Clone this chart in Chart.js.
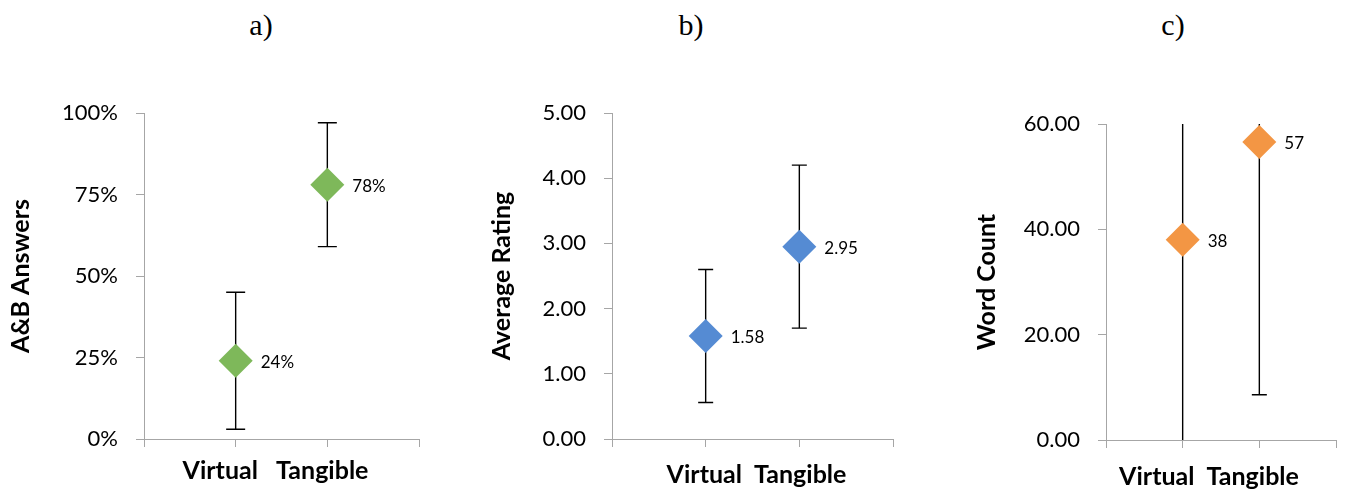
<!DOCTYPE html>
<html>
<head>
<meta charset="utf-8">
<script src="https://cdn.jsdelivr.net/npm/chart.js@4/dist/chart.umd.min.js"></script>
<style>
  html, body { margin: 0; padding: 0; background: #fff; }
  #wrap { position: relative; width: 1353px; height: 489px; overflow: hidden; }
  .panel { position: absolute; top: 0; height: 489px; }
  .lbl { position: absolute; top: 10px; line-height: 30px; font-family: "Liberation Serif", "Times New Roman", serif; font-size: 30px; color: #000; transform: translateX(-50%); }
</style>
</head>
<body>
<div id="wrap">
  <div class="lbl" style="left:261px">a)</div>
  <div class="lbl" style="left:691px">b)</div>
  <div class="lbl" style="left:1173px">c)</div>
  <div class="panel" style="left:0;width:440px"><canvas id="ca"></canvas></div>
  <div class="panel" style="left:460px;width:450px"><canvas id="cb"></canvas></div>
  <div class="panel" style="left:910px;width:443px"><canvas id="cc"></canvas></div>
</div>
<script>
// ---- data ----
const categories = ["Virtual", "Tangible"];

const answersValues = [24, 78];
const answersErrors = [21, 19];

const ratingValues = [1.58, 2.95];
const ratingErrors = [1.02, 1.25];

const wordValues = [38, 56.6];
const wordErrors = [48, 48];

const answersTicks = [0, 25, 50, 75, 100];
const ratingTicks = [0, 1, 2, 3, 4, 5];
const wordTicks = [0, 20, 40, 60];

// ---- helpers ----
const FONT = "Lato, 'Open Sans', sans-serif";
const AXIS_GRAY = "#A6A6A6";
const extras = {}; // per-canvas error bars, label formats, x title placement

const errorBarPlugin = {
  id: 'errorBars',
  beforeDatasetsDraw(chart) {
    const o = extras[chart.canvas.id];
    if (!o) return;
    const {ctx, chartArea, scales} = chart;
    const ds = chart.data.datasets[0];
    ctx.save();
    ctx.beginPath();
    ctx.rect(chartArea.left - 20, chartArea.top, chartArea.right - chartArea.left + 40, chartArea.bottom - chartArea.top);
    ctx.clip();
    ctx.strokeStyle = '#000';
    ctx.lineWidth = 1.4;
    ds.data.forEach((p, i) => {
      const e = o.errors[i];
      const x = scales.x.getPixelForValue(p.x);
      const yHi = scales.y.getPixelForValue(p.y + e);
      const yLo = scales.y.getPixelForValue(p.y - e);
      ctx.beginPath();
      ctx.moveTo(x, yHi); ctx.lineTo(x, yLo);
      ctx.moveTo(x - o.cap, yHi); ctx.lineTo(x + o.cap, yHi);
      ctx.moveTo(x - o.cap, yLo); ctx.lineTo(x + o.cap, yLo);
      ctx.stroke();
    });
    ctx.restore();
  }
};

const valueLabelPlugin = {
  id: 'valueLabels',
  afterDatasetsDraw(chart) {
    const o = extras[chart.canvas.id];
    if (!o) return;
    const {ctx, chartArea} = chart;
    const meta = chart.getDatasetMeta(0);
    const ds = chart.data.datasets[0];
    ctx.save();
    ctx.font = "17px " + FONT;
    ctx.fillStyle = '#000';
    ctx.textAlign = 'left';
    ctx.textBaseline = 'middle';
    meta.data.forEach((el, i) => {
      ctx.fillText(o.labelFmt(ds.data[i].y), el.x + 25, el.y + 2);
    });
    // x axis title (category names)
    ctx.font = "bold 25px " + FONT;
    ctx.textAlign = 'center';
    ctx.textBaseline = 'alphabetic';
    ctx.fillText(categories.join(o.gap), (chartArea.left + chartArea.right) / 2 + o.titleDx, o.titleY);
    ctx.restore();
  }
};

function makeChart(id, cfg) {
  extras[id] = { errors: cfg.errors, cap: cfg.cap, labelFmt: cfg.labelFmt, gap: cfg.gap, titleDx: cfg.titleDx, titleY: cfg.titleY };
  const points = cfg.values.map((v, i) => ({x: i + 1, y: v}));
  return new Chart(document.getElementById(id), {
    type: 'scatter',
    data: {
      datasets: [{
        label: cfg.yTitle,
        data: points,
        pointStyle: 'rectRot',
        pointRadius: 17,
        pointHoverRadius: 17,
        backgroundColor: cfg.color,
        borderColor: cfg.color,
        borderWidth: 0,
        clip: false
      }]
    },
    options: {
      responsive: true,
      maintainAspectRatio: false,
      animation: false,
      events: [],
      layout: { padding: { top: cfg.top, right: cfg.right, bottom: 0, left: 0 } },
      plugins: {
        legend: { display: false },
        tooltip: { enabled: false }
      },
      scales: {
        x: {
          type: 'linear',
          min: 0, max: 3,
          afterFit(s) { s.height = cfg.xHeight; },
          afterBuildTicks(s) { s.ticks = [0, 1, 2, 3].map(v => ({value: v})); },
          ticks: { callback: () => '', font: { size: 1 } },
          grid: { drawOnChartArea: false, drawTicks: true, tickLength: 8, color: AXIS_GRAY, lineWidth: 1 },
          border: { display: true, color: AXIS_GRAY, width: 1 },
          title: { display: false }
        },
        y: {
          min: cfg.ticks[0], max: cfg.ticks[cfg.ticks.length - 1],
          afterFit(s) { s.width = cfg.yWidth; },
          afterBuildTicks(s) { s.ticks = cfg.ticks.map(v => ({value: v})); },
          ticks: { callback: cfg.tickFmt, color: '#000', padding: 18, font: { family: FONT, size: 22 } },
          grid: { drawOnChartArea: false, drawTicks: true, tickLength: 8, color: AXIS_GRAY, lineWidth: 1 },
          border: { display: true, color: AXIS_GRAY, width: 1 },
          title: {
            display: true, text: cfg.yTitle, color: '#000',
            font: { family: FONT, size: 25, weight: 'bold' },
            padding: { top: cfg.yTitlePad, bottom: 0 }
          }
        }
      }
    },
    plugins: [errorBarPlugin, valueLabelPlugin]
  });
}

makeChart('ca', {
  values: answersValues, errors: answersErrors, ticks: answersTicks,
  color: '#7EB85A', yTitle: 'A&B Answers',
  tickFmt: v => v + '%', labelFmt: v => v + '%',
  top: 113, right: 21, xHeight: 50, yWidth: 144, yTitlePad: 6, cap: 9.5,
  gap: '   ', titleDx: -6, titleY: 479
});

makeChart('cb', {
  values: ratingValues, errors: ratingErrors, ticks: ratingTicks,
  color: '#558BD3', yTitle: 'Average Rating',
  tickFmt: v => v.toFixed(2), labelFmt: v => v.toFixed(2),
  top: 113, right: 10, xHeight: 50, yWidth: 152, yTitlePad: 27, cap: 7.5,
  gap: '  ', titleDx: 4, titleY: 483
});

makeChart('cc', {
  values: wordValues, errors: wordErrors, ticks: wordTicks,
  color: '#F39644', yTitle: 'Word Count',
  tickFmt: v => v.toFixed(2), labelFmt: v => v.toFixed(0),
  top: 124, right: 3, xHeight: 49, yWidth: 196, yTitlePad: 62, cap: 7.5,
  gap: '  ', titleDx: -12, titleY: 485
});
</script>
</body>
</html>
